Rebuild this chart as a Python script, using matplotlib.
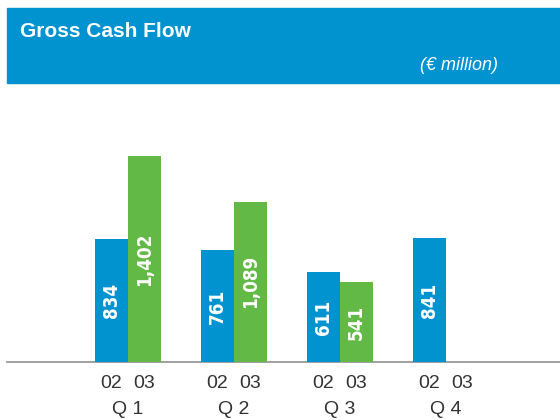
import matplotlib
matplotlib.use("Agg")
import matplotlib.pyplot as plt
from matplotlib.patches import Rectangle
from matplotlib.transforms import offset_copy

# Gross cash flow, € million
quarters = ["Q 1", "Q 2", "Q 3", "Q 4"]
years = ["02", "03"]
cf_2002 = [834, 761, 611, 841]
cf_2003 = [1402, 1089, 541]   # Q4 2003 not reported

BLUE = "#0093D0"
GREEN = "#63B946"
W, H = 560, 420

fig = plt.figure(figsize=(5.6, 4.2), dpi=100)
fig.patch.set_facecolor("white")

# header band
fig.patches.append(Rectangle((7 / W, 1 - 83 / H), 553 / W, 75 / H,
                             transform=fig.transFigure, color=BLUE, zorder=0))
fig.text(20 / W, 1 - 36.7 / H, "Gross Cash Flow", color="white", fontsize=15,
         fontweight="bold", family="Liberation Sans", va="baseline", ha="left")
fig.text(498 / W, 1 - 70 / H, "(€ million)", color="white", fontsize=13,
         style="italic", family="Liberation Sans", va="baseline", ha="right")

ax = fig.add_axes([7 / W, 1 - 362 / H, 553 / W, (362 - 100) / H])
for s in ax.spines.values():
    s.set_visible(False)

w = 0.311
xs = list(range(len(quarters)))
b1 = ax.bar([x - w / 2 for x in xs], cf_2002, width=w, color=BLUE, zorder=2)
b2 = ax.bar([x + w / 2 for x in xs[:len(cf_2003)]], cf_2003, width=w, color=GREEN, zorder=2)

for bars, vals in [(b1, cf_2002), (b2, cf_2003)]:
    for r, v in zip(bars, vals):
        ax.text(r.get_x() + r.get_width() / 2, v / 2, f"{v:,}", rotation=90,
                ha="center", va="center", color="white", fontsize=13.5,
                fontweight="bold", family="DejaVu Sans", fontstretch="condensed",
                zorder=3)

ax.axhline(0, color="#999999", lw=1.3, zorder=1, clip_on=False)
ax.set_xlim((7 - 128) / 106, (560 - 128) / 106)
ax.set_ylim(0, 262 / 0.1472)
ax.set_yticks([])

ticks, labels = [], []
for x in xs:
    ticks += [x - w / 2, x + w / 2]
    labels += years
ax.set_xticks(ticks)
ax.set_xticklabels(labels, fontsize=14, color="#333333", family="Liberation Sans")
ax.tick_params(axis="x", length=0, pad=9)

tr = offset_copy(ax.get_xaxis_transform(), fig=fig, x=0, y=-47, units="dots")
for x, q in zip(xs, quarters):
    ax.text(x, 0, q, transform=tr, ha="center", va="center", fontsize=14,
            color="#333333", family="Liberation Sans")

fig.savefig("out.png", dpi=100)
